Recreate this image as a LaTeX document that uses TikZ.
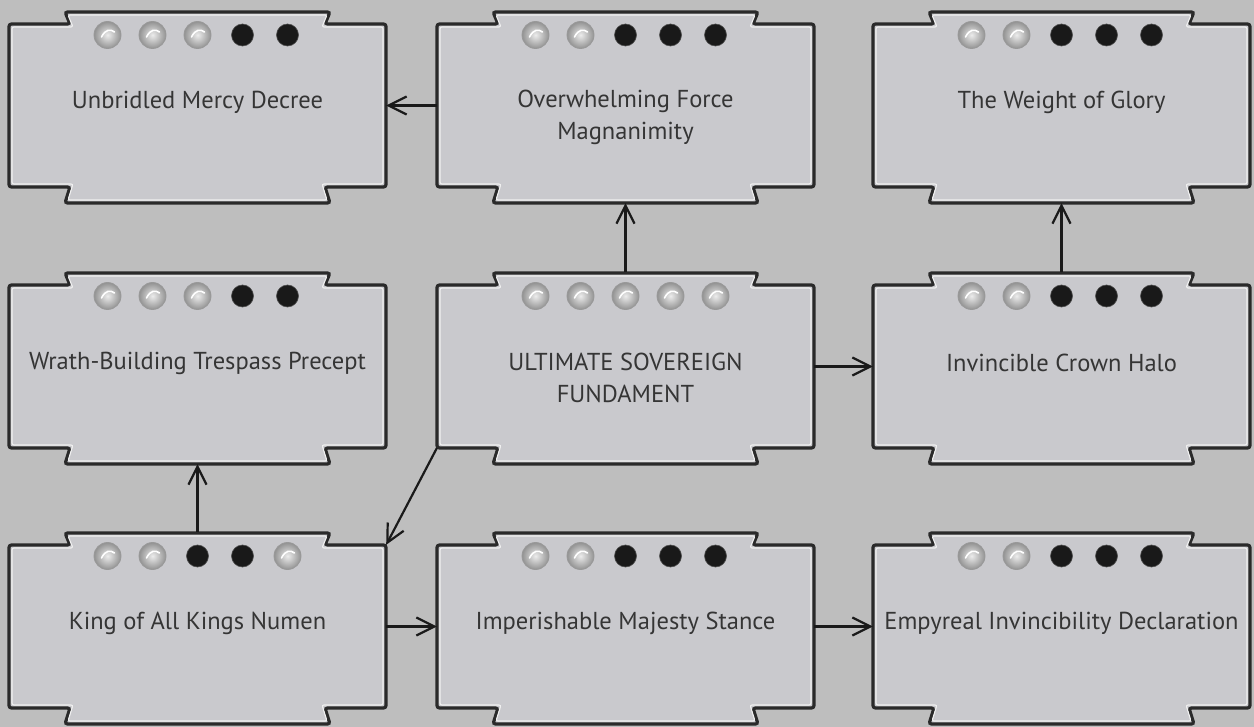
\documentclass[tikz,border=0pt]{standalone}
\usepackage{fontspec}
\setmainfont{PT Sans}
\usetikzlibrary{arrows.meta,shadings}
\definecolor{bgc}{HTML}{BEBEBE}
\definecolor{cardfill}{HTML}{C9C9CD}
\definecolor{cardline}{HTML}{2A2A2A}
\definecolor{cardtxt}{HTML}{353535}
\definecolor{arrc}{HTML}{1A1A1A}
\tikzset{
  cardbody/.style={fill=cardfill, draw=cardline, line width=3.2pt, rounded corners=2.5pt},
  cardhl/.style={draw=white!88!gray, line width=1.1pt, rounded corners=2pt},
  cardnode/.style={rectangle, minimum width=377pt, minimum height=163pt, inner sep=0pt},
  cardtext/.style={text=cardtxt, align=center, font=\fontsize{24.5}{32}\selectfont},
  sdot/.style={inner color=white!85!gray, outer color=gray!85, draw=gray!80, line width=0.8pt},
  bdot/.style={fill=black!90, draw=black!70, line width=0.6pt},
  link/.style={draw=arrc, line width=2.2pt, -{Straight Barb[length=18pt,width=18pt,line width=2.2pt]}}
}
% #1 L, #2 T, #3 inset
\newcommand\cardoutline[3]{%
  (#1+#3,#2+#3) -- (#1+61+#3,#2+#3) -- (#1+56+#3,#2-12+#3) --
  (#1+377-56-#3,#2-12+#3) -- (#1+377-61-#3,#2+#3) -- (#1+377-#3,#2+#3) --
  (#1+377-#3,#2+163-#3) -- (#1+377-61-#3,#2+163-#3) -- (#1+377-56-#3,#2+179-#3) --
  (#1+56+#3,#2+179-#3) -- (#1+61+#3,#2+163-#3) -- (#1+#3,#2+163-#3) -- cycle}
% #1 name, #2 L, #3 T, #4 dots, #5 text y offset, #6 text
\newcommand\card[6]{%
  \path[cardbody] \cardoutline{#2}{#3}{0};
  \path[cardhl] \cardoutline{#2}{#3}{3};
  \node[cardnode] (#1) at (#2+188.5,#3+81.5) {};
  \node[cardtext] (#1t) at (#2+188.5,#3+#5) {#6};
  \foreach \c [count=\i] in {#4} {%
    \ifnum\c=1
      \path[bdot] ({#2+188.5+(\i-3)*45},#3+11) circle[radius=11pt];
    \else
      \shade[sdot] ({#2+188.5+(\i-3)*45},#3+11) circle[radius=13.5pt];
      \draw[white, line width=1.6pt, line cap=round] ({#2+188.5+(\i-3)*45-6},#3+13) .. controls ({#2+188.5+(\i-3)*45-2},#3+5) and ({#2+188.5+(\i-3)*45+3},#3+5) .. ({#2+188.5+(\i-3)*45+7},#3+8);
    \fi
  }%
}
\begin{document}
\begin{tikzpicture}[x=1pt,y=-1pt]
\useasboundingbox (0,0) rectangle (1254,727);
\fill[bgc] (0,0) rectangle (1254,727);

\card{b1}{9}{24}{0,0,0,1,1}{78}{Unbridled Mercy Decree}
\card{b2}{437}{24}{0,0,1,1,1}{93}{Overwhelming Force\\Magnanimity}
\card{b3}{873}{24}{0,0,1,1,1}{78}{The Weight of Glory}
\card{b4}{9}{285}{0,0,0,1,1}{78}{Wrath-Building Trespass Precept}
\card{b5}{437}{285}{0,0,0,0,0}{93}{ULTIMATE SOVEREIGN\\FUNDAMENT}
\card{b6}{873}{285}{0,0,1,1,1}{78}{Invincible Crown Halo}
\card{b7}{9}{545}{0,0,1,1,0}{78}{King of All Kings Numen}
\card{b8}{437}{545}{0,0,1,1,1}{78}{Imperishable Majesty Stance}
\card{b9}{873}{545}{0,0,1,1,1}{78}{Empyreal Invincibility Declaration}

\draw[link] (b2.west) -- (b1.east);
\draw[link, shorten <=13pt, shorten >=16pt] (b5.north) -- (b2.south);
\draw[link] (b5.east) -- (b6.west);
\draw[link, shorten <=13pt, shorten >=16pt] (b6.north) -- (b3.south);
\draw[link] (b5.south west) -- (b7.north east);
\draw[link, shorten <=13pt, shorten >=16pt] (b7.north) -- (b4.south);
\draw[link] (b7.east) -- (b8.west);
\draw[link] (b8.east) -- (b9.west);
\end{tikzpicture}
\end{document}
